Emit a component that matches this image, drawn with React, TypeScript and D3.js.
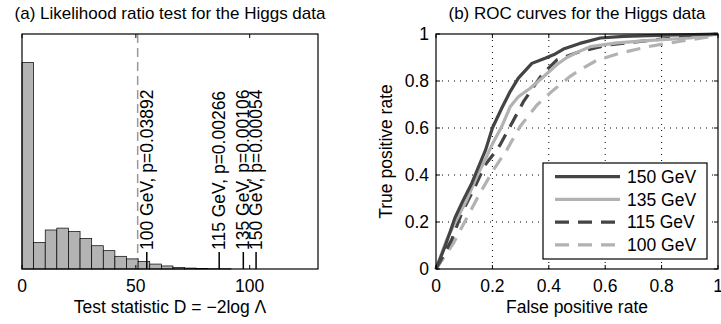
import React, { useRef, useEffect } from 'react';
import * as d3 from 'd3';

// histogram of the test statistic under the null (20 bins, width 5.1)
const histCounts = [879, 113, 166, 174, 159, 130, 99, 78, 54, 43, 32, 21, 13, 7, 4, 2, 1, 1, 0, 0];
const binWidth = 5.1;
const criticalValue = 50.8;

const markerMasses = ['100 GeV', '115 GeV', '135 GeV', '150 GeV'];
const markerStats = [54.8, 86.6, 97.2, 102.8];
const markerPValues = ['0.03892', '0.00266', '0.00106', '0.00054'];

const histTicks = [0, 50, 100];
const rocTicks = [0, 0.2, 0.4, 0.6, 0.8, 1];

const roc150: [number, number][] = [
    [0, 0], [0.032, 0.096], [0.067, 0.217], [0.097, 0.294], [0.127, 0.365], [0.156, 0.45], [0.176, 0.507],
    [0.2, 0.6], [0.233, 0.684], [0.263, 0.755], [0.292, 0.812], [0.34, 0.875], [0.387, 0.897], [0.423, 0.915],
    [0.452, 0.936], [0.51, 0.96], [0.583, 0.983], [0.665, 0.99], [0.784, 0.994], [1, 1]
];
const roc135: [number, number][] = [
    [0, 0], [0.038, 0.125], [0.073, 0.21], [0.109, 0.294], [0.145, 0.394], [0.18, 0.479], [0.195, 0.52],
    [0.233, 0.606], [0.263, 0.69], [0.292, 0.733], [0.334, 0.769], [0.381, 0.818], [0.429, 0.87], [0.464, 0.9],
    [0.506, 0.925], [0.547, 0.946], [0.642, 0.962], [0.76, 0.973], [0.902, 0.983], [1, 1]
];
const roc115: [number, number][] = [
    [0, 0], [0.056, 0.125], [0.091, 0.238], [0.133, 0.337], [0.174, 0.443], [0.216, 0.507], [0.227, 0.528],
    [0.269, 0.62], [0.31, 0.712], [0.375, 0.826], [0.429, 0.89], [0.512, 0.926], [0.618, 0.955], [0.725, 0.969],
    [0.842, 0.983], [1, 1]
];
const roc100: [number, number][] = [
    [0, 0], [0.062, 0.11], [0.109, 0.217], [0.156, 0.323], [0.204, 0.422], [0.251, 0.507], [0.298, 0.606],
    [0.358, 0.698], [0.417, 0.762], [0.476, 0.82], [0.512, 0.848], [0.57, 0.888], [0.654, 0.919], [0.76, 0.948],
    [0.867, 0.969], [0.98, 0.99], [1, 1]
];

const rocSeries = [
    { label: '150 GeV', points: roc150, color: '#444444', dash: null },
    { label: '135 GeV', points: roc135, color: '#b2b2b2', dash: null },
    { label: '115 GeV', points: roc115, color: '#444444', dash: '14,9' },
    { label: '100 GeV', points: roc100, color: '#b2b2b2', dash: '14,9' },
];

const FONT = '"Liberation Sans", Arial, Helvetica, sans-serif';

export default function App() {
    const svgRef = useRef<SVGSVGElement | null>(null);

    useEffect(() => {
        if (!svgRef.current) return;
        const svg = d3.select(svgRef.current);
        svg.selectAll('*').remove();
        svg.attr('font-family', FONT);

        const tickLen = 4;

        // ---------- (a) histogram ----------
        const a = { left: 22, right: 318, top: 34, bottom: 269 };
        const xA = d3.scaleLinear().domain([0, 130]).range([a.left, a.right]);
        const yA = d3.scaleLinear().domain([0, 1000]).range([a.bottom, a.top]);
        const gA = svg.append('g');

        gA.append('rect')
            .attr('x', a.left).attr('y', a.top)
            .attr('width', a.right - a.left).attr('height', a.bottom - a.top)
            .attr('fill', 'white');

        gA.append('line')
            .attr('x1', xA(criticalValue)).attr('x2', xA(criticalValue))
            .attr('y1', a.top).attr('y2', a.bottom)
            .attr('stroke', '#999999').attr('stroke-width', 1.5)
            .attr('stroke-dasharray', '9,5');

        gA.selectAll('.bin')
            .data(histCounts)
            .enter().append('rect')
            .attr('x', (_, i) => xA(i * binWidth))
            .attr('width', xA(binWidth) - xA(0))
            .attr('y', d => yA(d))
            .attr('height', d => yA(0) - yA(d))
            .attr('fill', '#b3b3b3')
            .attr('stroke', '#000')
            .attr('stroke-width', 0.7);

        const markerH = 17;
        markerStats.forEach((v, i) => {
            gA.append('line')
                .attr('x1', xA(v)).attr('x2', xA(v))
                .attr('y1', a.bottom).attr('y2', a.bottom - markerH)
                .attr('stroke', '#000').attr('stroke-width', 1.5);
            gA.append('text')
                .attr('transform', `translate(${xA(v)},${a.bottom - markerH - 2}) rotate(-90)`)
                .attr('dy', '0.35em')
                .attr('font-size', 17.5)
                .text(`${markerMasses[i]}, p=${markerPValues[i]}`);
        });

        histTicks.forEach(t => {
            gA.append('line').attr('x1', xA(t)).attr('x2', xA(t))
                .attr('y1', a.bottom).attr('y2', a.bottom - tickLen).attr('stroke', '#000');
            gA.append('line').attr('x1', xA(t)).attr('x2', xA(t))
                .attr('y1', a.top).attr('y2', a.top + tickLen).attr('stroke', '#000');
            gA.append('text')
                .attr('x', xA(t)).attr('y', 292)
                .attr('text-anchor', 'middle').attr('font-size', 17.5)
                .text(t);
        });

        gA.append('rect')
            .attr('x', a.left).attr('y', a.top)
            .attr('width', a.right - a.left).attr('height', a.bottom - a.top)
            .attr('fill', 'none').attr('stroke', '#000').attr('stroke-width', 1.2);

        gA.append('text')
            .attr('x', (a.left + a.right) / 2).attr('y', 313)
            .attr('text-anchor', 'middle').attr('font-size', 17.5)
            .text('Test statistic D = \u22122log \u039B');

        gA.append('text')
            .attr('x', (a.left + a.right) / 2).attr('y', 19)
            .attr('text-anchor', 'middle').attr('font-size', 17)
            .text('(a) Likelihood ratio test for the Higgs data');

        // ---------- (b) ROC curves ----------
        const b = { left: 436, right: 718, top: 34, bottom: 269 };
        const xB = d3.scaleLinear().domain([0, 1]).range([b.left, b.right]);
        const yB = d3.scaleLinear().domain([0, 1]).range([b.bottom, b.top]);
        const gB = svg.append('g');

        const inner = rocTicks.filter(t => t > 0 && t < 1);
        inner.forEach(t => {
            gB.append('line').attr('x1', xB(t)).attr('x2', xB(t))
                .attr('y1', b.top).attr('y2', b.bottom)
                .attr('stroke', '#000').attr('stroke-width', 1).attr('stroke-dasharray', '1,5');
            gB.append('line').attr('x1', b.left).attr('x2', b.right)
                .attr('y1', yB(t)).attr('y2', yB(t))
                .attr('stroke', '#000').attr('stroke-width', 1).attr('stroke-dasharray', '1,5');
        });

        const line = d3.line<[number, number]>()
            .x(d => xB(d[0]))
            .y(d => yB(d[1]))
            .curve(d3.curveLinear);

        [...rocSeries].reverse().forEach(s => {
            gB.append('path')
                .attr('d', line(s.points))
                .attr('fill', 'none')
                .attr('stroke', s.color)
                .attr('stroke-width', 3.2)
                .attr('stroke-linejoin', 'round')
                .attr('stroke-dasharray', s.dash);
        });

        rocTicks.forEach(t => {
            gB.append('line').attr('x1', xB(t)).attr('x2', xB(t))
                .attr('y1', b.bottom).attr('y2', b.bottom - tickLen).attr('stroke', '#000');
            gB.append('line').attr('x1', xB(t)).attr('x2', xB(t))
                .attr('y1', b.top).attr('y2', b.top + tickLen).attr('stroke', '#000');
            gB.append('line').attr('x1', b.left).attr('x2', b.left + tickLen)
                .attr('y1', yB(t)).attr('y2', yB(t)).attr('stroke', '#000');
            gB.append('line').attr('x1', b.right).attr('x2', b.right - tickLen)
                .attr('y1', yB(t)).attr('y2', yB(t)).attr('stroke', '#000');
            gB.append('text')
                .attr('x', xB(t)).attr('y', 292)
                .attr('text-anchor', 'middle').attr('font-size', 17.5)
                .text(d3.format('~g')(t));
            gB.append('text')
                .attr('x', b.left - 7).attr('y', yB(t))
                .attr('dy', '0.35em')
                .attr('text-anchor', 'end').attr('font-size', 17.5)
                .text(d3.format('~g')(t));
        });

        gB.append('rect')
            .attr('x', b.left).attr('y', b.top)
            .attr('width', b.right - b.left).attr('height', b.bottom - b.top)
            .attr('fill', 'none').attr('stroke', '#000').attr('stroke-width', 1.2);

        // legend
        const lg = { x: 543, y: 163, w: 164, h: 96 };
        gB.append('rect')
            .attr('x', lg.x).attr('y', lg.y).attr('width', lg.w).attr('height', lg.h)
            .attr('fill', 'white').attr('stroke', '#000').attr('stroke-width', 1.2);
        rocSeries.forEach((s, i) => {
            const ry = lg.y + 13.7 + i * 22.7;
            gB.append('line')
                .attr('x1', lg.x + 12).attr('x2', lg.x + 77)
                .attr('y1', ry).attr('y2', ry)
                .attr('stroke', s.color).attr('stroke-width', 3.2)
                .attr('stroke-dasharray', s.dash);
            gB.append('text')
                .attr('x', lg.x + 84).attr('y', ry)
                .attr('dy', '0.35em').attr('font-size', 17.5)
                .text(s.label);
        });

        gB.append('text')
            .attr('x', (b.left + b.right) / 2).attr('y', 313)
            .attr('text-anchor', 'middle').attr('font-size', 17.5)
            .text('False positive rate');

        gB.append('text')
            .attr('transform', `translate(386,${(b.top + b.bottom) / 2}) rotate(-90)`)
            .attr('text-anchor', 'middle').attr('dy', '0.35em').attr('font-size', 17.5)
            .text('True positive rate');

        gB.append('text')
            .attr('x', (b.left + b.right) / 2).attr('y', 19)
            .attr('text-anchor', 'middle').attr('font-size', 17)
            .text('(b) ROC curves for the Higgs data');
    }, []);

    return (
        <div style={{ position: 'absolute', left: 0, top: 0, width: 721, height: 324, background: 'white' }}>
            <svg ref={svgRef} width={721} height={324}></svg>
        </div>
    );
}
